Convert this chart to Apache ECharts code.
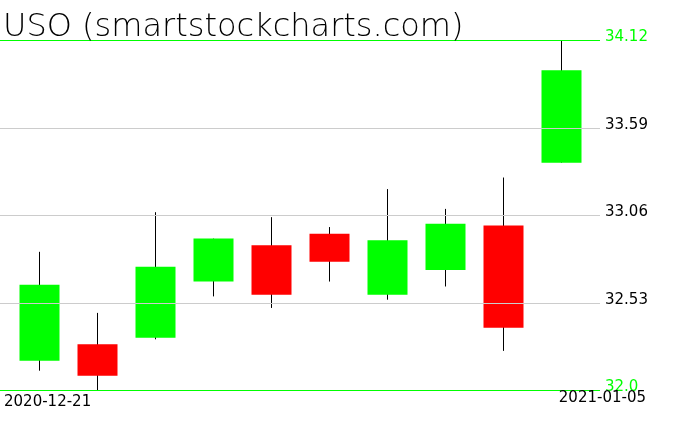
<!DOCTYPE html>
<html><head><meta charset="utf-8">
<script src="https://cdn.jsdelivr.net/npm/echarts@6/dist/echarts.min.js"></script>
<style>html,body{margin:0;padding:0;background:#fff}#c{width:676px;height:431px}</style>
</head><body><div id="c"></div>
<script>
const dates = ['2020-12-21','2020-12-22','2020-12-23','2020-12-24','2020-12-28','2020-12-29','2020-12-30','2020-12-31','2021-01-04','2021-01-05'];
const opens  = [32.18, 32.28, 32.32, 32.66, 32.88, 32.95, 32.58, 32.73, 33.00, 33.38];
const closes = [32.64, 32.09, 32.75, 32.92, 32.58, 32.78, 32.91, 33.01, 32.38, 33.94];
const lows   = [32.12, 32.00, 32.31, 32.57, 32.50, 32.66, 32.55, 32.63, 32.24, 33.38];
const highs  = [32.84, 32.47, 33.08, 32.92, 33.05, 32.99, 33.22, 33.10, 33.29, 34.12];
const tickValues = [34.12, 33.59, 33.06, 32.53, 32.0];
const tickLabels = ['34.12', '33.59', '33.06', '32.53', '32.0'];
const chartTitle = 'USO (smartstockcharts.com)';

const FONT = 'DejaVu Sans';
const GREEN = '#00ff00', RED = '#ff0000', GRAY = '#cccccc';
const candleData = dates.map((d, i) => [i, opens[i], closes[i], lows[i], highs[i]]);

const chart = echarts.init(document.getElementById('c'), null, {renderer: 'canvas'});
const lastIdx = tickValues.length - 1;
chart.setOption({
  animation: false,
  backgroundColor: '#ffffff',
  title: [
    {text: chartTitle, left: 3, top: 12, padding: 0,
     textStyle: {fontFamily: FONT, fontSize: 32, fontWeight: 200, color: '#000'}},
    {text: dates[0], left: 4, top: 395, padding: 0,
     textStyle: {fontFamily: FONT, fontSize: 15, fontWeight: 'normal', color: '#000'}},
    {text: dates[dates.length - 1], right: 30, top: 391, padding: 0,
     textStyle: {fontFamily: FONT, fontSize: 15, fontWeight: 'normal', color: '#000'}}
  ],
  grid: {left: 0, right: 76, top: 40.5, height: 350, containLabel: false},
  xAxis: {
    type: 'value', min: -0.6776, max: 9.667,
    axisLine: {show: false}, axisTick: {show: false}, axisLabel: {show: false}, splitLine: {show: false}
  },
  yAxis: {
    type: 'value', min: 32.0, max: 34.12, scale: true,
    axisLine: {show: false}, axisTick: {show: false}, axisLabel: {show: false}, splitLine: {show: false}
  },
  series: [
    {
      type: 'candlestick', z: 2, silent: true,
      data: candleData, barWidth: 0,
      itemStyle: {color: '#000', color0: '#000', borderColor: '#000', borderColor0: '#000', borderWidth: 1}
    },
    {
      type: 'candlestick', z: 3, silent: true,
      data: candleData, barWidth: 40,
      itemStyle: {color: GREEN, color0: RED, borderColor: GREEN, borderColor0: RED, borderWidth: 0}
    },
    {
      type: 'line', z: 10, silent: true, data: [],
      markLine: {
        silent: true, symbol: 'none', animation: false,
        data: tickValues.map((v, i) => {
          const edge = (i === 0 || i === lastIdx);
          return {
            yAxis: v,
            lineStyle: {color: edge ? GREEN : GRAY, width: 1, type: 'solid'},
            label: {
              show: true, position: 'end', distance: 5, formatter: tickLabels[i],
              color: edge ? GREEN : '#000', fontFamily: FONT, fontSize: 15,
              verticalAlign: 'bottom', lineHeight: 6
            }
          };
        })
      }
    }
  ]
});
</script></body></html>
